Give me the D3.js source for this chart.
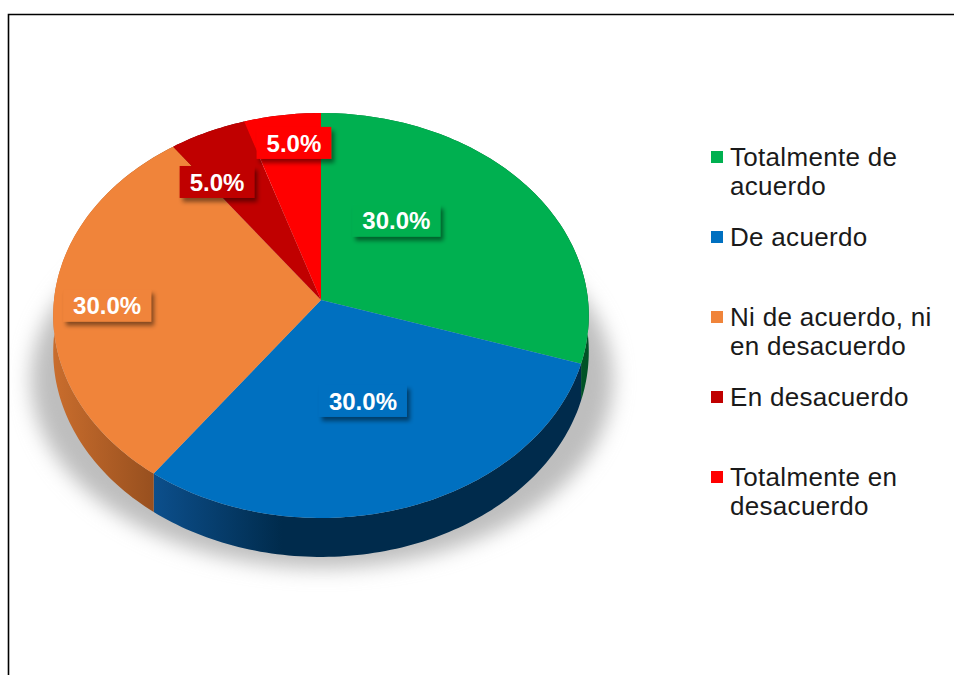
<!DOCTYPE html>
<html>
<head>
<meta charset="utf-8">
<script src="https://cdn.jsdelivr.net/npm/d3@7"></script>
<style>
  html, body { margin: 0; padding: 0; background: #fff; }
  svg { display: block; font-family: "Liberation Sans", Arial, sans-serif; }
</style>
</head>
<body>
<div id="chart"></div>
<script>
// datos
var categories = ["Totalmente de acuerdo", "De acuerdo", "Ni de acuerdo, ni en desacuerdo", "En desacuerdo", "Totalmente en desacuerdo"];
var values = [30, 30, 30, 5, 5];
var legendLines = [["Totalmente de", "acuerdo"], ["De acuerdo"], ["Ni de acuerdo, ni", "en desacuerdo"], ["En desacuerdo"], ["Totalmente en", "desacuerdo"]];
var colors = ["#00b050", "#0070c0", "#f0843a", "#c00000", "#ff0000"];
var sideColors = [["#007a38", "#005226"], ["#0c4f8c", "#002b4c"], ["#c96d2d", "#8e4a1c"], ["#7a0000", "#600000"], ["#a00000", "#800000"]];

// posicion de las etiquetas (angulo en grados, radio relativo) - layout
var labelAt = [[35.6, 0.50], [162.6, 0.506], [268, 0.80], [326.4, 0.737], [352.6, 0.837]];

var width = 954, height = 675;
var CX = 321, CY = 300, RX = 267, RY = 201.3, K = 0.0765, DEPTH = 36;

var svg = d3.select("#chart").append("svg")
    .attr("width", width)
    .attr("height", height);

var defs = svg.append("defs");
defs.append("filter").attr("id", "blurShadow")
    .attr("x", "-20%").attr("y", "-20%").attr("width", "140%").attr("height", "140%")
    .append("feGaussianBlur").attr("stdDeviation", 10);
var ds = defs.append("filter").attr("id", "boxShadow")
    .attr("x", "-20%").attr("y", "-30%").attr("width", "150%").attr("height", "170%");
ds.append("feDropShadow").attr("dx", 3).attr("dy", 4).attr("stdDeviation", 2)
    .attr("flood-color", "#000").attr("flood-opacity", 0.45);

sideColors.forEach(function (c, i) {
    var g = defs.append("linearGradient").attr("id", "side" + i)
        .attr("x1", 0).attr("x2", 1).attr("y1", 0).attr("y2", 0);
    g.append("stop").attr("offset", "0").attr("stop-color", c[0]);
    g.append("stop").attr("offset", i === 1 ? "0.3" : "1").attr("stop-color", c[1]);
    if (i === 1) g.append("stop").attr("offset", "1").attr("stop-color", c[1]);
});

// marco
svg.append("path")
    .attr("d", "M8.5," + height + "V14.5H" + width)
    .attr("fill", "none").attr("stroke", "#000").attr("stroke-width", 1.6);

// proyeccion en perspectiva del disco
function proj(r, a, drop) {
    var c = Math.cos(a);
    var s = 1 / (1 + K * r * c);
    return [CX + RX * r * Math.sin(a) * s, CY - RY * r * c * s + (drop || 0) * s];
}
function rim(a0, a1, drop) {
    var n = Math.max(4, Math.ceil(Math.abs(a1 - a0) / 0.02));
    return d3.range(n + 1).map(function (j) { return proj(1, a0 + (a1 - a0) * j / n, drop); });
}

var pie = d3.pie().sort(null).value(function (d) { return d; });
var arcs = pie(values);
var line = d3.line();
var fmt = d3.format(".1%");
var total = d3.sum(values);

// sombra
svg.append("ellipse")
    .attr("cx", CX + 1)
    .attr("cy", 380)
    .attr("rx", RX + 24)
    .attr("ry", 188)
    .attr("fill", "#bebebe")
    .attr("filter", "url(#blurShadow)");

// lados
svg.append("g").selectAll("path")
    .data(arcs)
    .enter().append("path")
    .attr("d", function (d) {
        var top = rim(d.startAngle, d.endAngle, 0);
        var bottom = rim(d.endAngle, d.startAngle, DEPTH);
        return line(top.concat(bottom)) + "Z";
    })
    .attr("fill", function (d, i) { return "url(#side" + i + ")"; });

// cara superior
svg.append("g").selectAll("path")
    .data(arcs)
    .enter().append("path")
    .attr("d", function (d) {
        return line([proj(0, 0)].concat(rim(d.startAngle, d.endAngle, 0))) + "Z";
    })
    .attr("fill", function (d, i) { return colors[i]; });

// etiquetas
var lab = svg.append("g").selectAll("g")
    .data(arcs)
    .enter().append("g")
    .attr("transform", function (d, i) {
        var p = proj(labelAt[i][1], labelAt[i][0] * Math.PI / 180);
        return "translate(" + p[0] + "," + p[1] + ")";
    });
lab.append("rect")
    .attr("fill", function (d, i) { return colors[i]; })
    .attr("filter", "url(#boxShadow)");
lab.append("text")
    .attr("text-anchor", "middle")
    .attr("dy", "0.36em")
    .attr("fill", "#fff")
    .attr("font-weight", "bold")
    .attr("font-size", 24)
    .text(function (d) { return fmt(d.value / total); });
lab.each(function () {
    var g = d3.select(this);
    var b = g.select("text").node().getBBox();
    g.select("rect")
        .attr("x", b.x - 10).attr("y", -16)
        .attr("width", b.width + 20).attr("height", 32);
});

// leyenda
var legend = svg.append("g").selectAll("g")
    .data(categories)
    .enter().append("g")
    .attr("transform", function (d, i) { return "translate(711," + (157 + i * 80) + ")"; });
legend.append("rect")
    .attr("x", 0).attr("y", -6)
    .attr("width", 12).attr("height", 12)
    .attr("fill", function (d, i) { return colors[i]; });
legend.append("text")
    .attr("x", 19)
    .attr("y", 9)
    .attr("font-size", 26)
    .attr("letter-spacing", 0.3)
    .attr("fill", "#1a1a1a")
    .selectAll("tspan")
    .data(function (d, i) { return legendLines[i]; })
    .enter().append("tspan")
    .attr("x", 19)
    .attr("dy", function (d, j) { return j === 0 ? 0 : 29; })
    .text(function (d) { return d; });
</script>
</body>
</html>
